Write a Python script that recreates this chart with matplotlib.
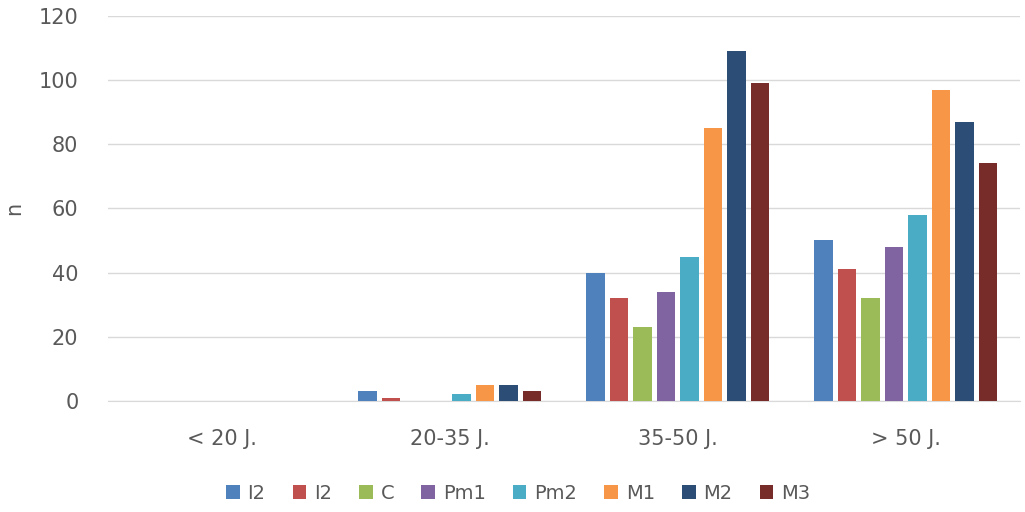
import numpy as np
import matplotlib.pyplot as plt

categories = ["< 20 J.", "20-35 J.", "35-50 J.", "> 50 J."]
series_names = ["I2", "I2", "C", "Pm1", "Pm2", "M1", "M2", "M3"]
values = [
    [0, 3, 40, 50],
    [0, 1, 32, 41],
    [0, 0, 23, 32],
    [0, 0, 34, 48],
    [0, 2, 45, 58],
    [0, 5, 85, 97],
    [0, 5, 109, 87],
    [0, 3, 99, 74],
]
colors = ["#4F81BD", "#C0504D", "#9BBB59", "#8064A2",
          "#4BACC6", "#F79646", "#2C4D75", "#772C2A"]

fig = plt.figure(figsize=(10.25, 5.12), dpi=100)
ax = fig.add_axes([0.105, 0.217, 0.89, 0.752])

x = np.arange(len(categories))
pitch = 0.103
width = 0.082
for i, (name, vals) in enumerate(zip(series_names, values)):
    ax.bar(x + (i - 3.5) * pitch, vals, width, color=colors[i], label=name, zorder=3)

ax.set_xlim(-0.5, 3.5)
ax.set_ylim(0, 120)
ax.set_yticks(range(0, 121, 20))
ax.set_xticks(x)
ax.set_xticklabels(categories)
ax.grid(axis="y", color="#D9D9D9", linewidth=1, zorder=0)
for s in ["top", "right", "left"]:
    ax.spines[s].set_visible(False)
ax.spines["bottom"].set_color("#D9D9D9")
ax.tick_params(axis="both", length=0, labelsize=15, labelcolor="#595959")
ax.tick_params(axis="y", pad=21)
ax.tick_params(axis="x", pad=20)
ax.set_ylabel("n", fontsize=15, color="#595959")
ax.yaxis.set_label_coords(-0.092, 0.5)

ax.legend(loc="upper center", bbox_to_anchor=(0.45, -0.17), ncol=8, frameon=False,
          fontsize=14, labelcolor="#595959", handlelength=0.7, handleheight=0.7,
          handletextpad=0.4, columnspacing=1.4)

fig.savefig("out.png", dpi=100)
